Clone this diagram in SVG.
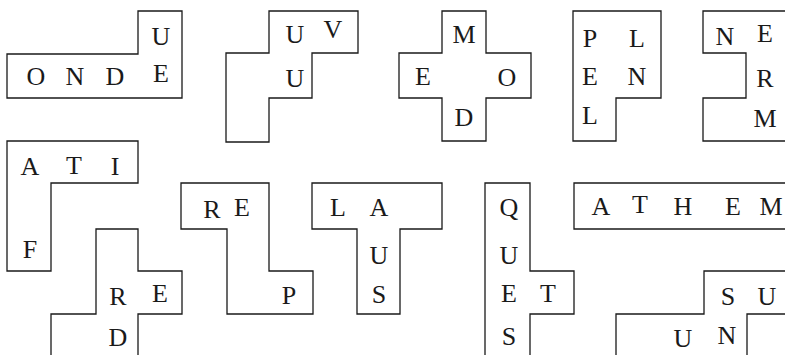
<svg xmlns="http://www.w3.org/2000/svg" width="785" height="355" viewBox="0 0 785 355">
<style>
.s{fill:#fff;stroke:#1a1a1a;stroke-width:1.3;stroke-linejoin:miter}
.o{fill:none;stroke:#1a1a1a;stroke-width:1.3}
text{font-family:"Liberation Serif","Times New Roman",serif;font-size:26px;fill:#1a1a1a;text-anchor:middle}
</style>
<rect width="785" height="355" fill="#fff"/>
<g id="p1">
<polygon class="s" points="7,54 138,54 138,11 182,11 182,98 7,98"/>
<text x="36" y="85">O</text><text x="75" y="85">N</text><text x="115" y="85">D</text><text x="161" y="82">E</text><text x="161" y="45">U</text>
</g>
<g id="p2">
<polygon class="s" points="269,11 358,11 358,53 312,53 312,98 269,98 269,142 226,142 226,53 269,53"/>
<text x="295" y="43">U</text><text x="333" y="38">V</text><text x="295" y="87">U</text>
</g>
<g id="p3">
<polygon class="s" points="442,11 486,11 486,53 531,53 531,98 486,98 486,141 442,141 442,98 399,98 399,53 442,53"/>
<text x="464" y="43">M</text><text x="423" y="85">E</text><text x="507" y="86">O</text><text x="464" y="126">D</text>
</g>
<g id="p4">
<polygon class="s" points="573,11 661,11 661,98 616,98 616,141 573,141"/>
<text x="590" y="47">P</text><text x="637" y="47">L</text><text x="590" y="85">E</text><text x="637" y="85">N</text><text x="590" y="124">L</text>
</g>
<g id="p5">
<polyline class="o" points="786,11 703,11 703,53 746,53 746,98 703,98 703,141 786,141"/>
<text x="725" y="45">N</text><text x="765" y="42">E</text><text x="765" y="87">R</text><text x="765" y="127">M</text>
</g>
<g id="p6">
<polygon class="s" points="7,141 138,141 138,183 51,183 51,271 7,271"/>
<text x="30" y="175">A</text><text x="74" y="174">T</text><text x="115" y="175">I</text><text x="30" y="258">F</text>
</g>
<g id="p7">
<polyline class="o" points="51,356 51,314 96,314 96,229 138,229 138,271 182,271 182,314 138,314 138,356"/>
<text x="118" y="305">R</text><text x="160" y="302">E</text><text x="118" y="346">D</text>
</g>
<g id="p8">
<polygon class="s" points="181,183 269,183 269,271 313,271 313,314 227,314 227,229 181,229"/>
<text x="212" y="218">R</text><text x="242" y="216">E</text><text x="289" y="304">P</text>
</g>
<g id="p9">
<polygon class="s" points="312,183 442,183 442,229 400,229 400,314 357,314 357,229 312,229"/>
<text x="338" y="216">L</text><text x="379" y="216">A</text><text x="379" y="264">U</text><text x="379" y="303">S</text>
</g>
<g id="p10">
<polyline class="o" points="485,356 485,183 530,183 530,271 574,271 574,314 530,314 530,356"/>
<text x="509" y="216">Q</text><text x="509" y="264">U</text><text x="509" y="302">E</text><text x="548" y="302">T</text><text x="509" y="345">S</text>
</g>
<g id="p11">
<polyline class="o" points="786,183 574,183 574,229 786,229"/>
<text x="601" y="215">A</text><text x="640" y="213">T</text><text x="683" y="215">H</text><text x="733" y="215">E</text><text x="771" y="215">M</text>
</g>
<g id="p12">
<polyline class="o" points="616,356 616,314 704,314 704,271 786,271"/>
<polyline class="o" points="786,314 747,314 747,356"/>
<text x="728" y="305">S</text><text x="767" y="305">U</text><text x="683" y="347">U</text><text x="727" y="344">N</text>
</g>
<g id="connectors"/>
</svg>
